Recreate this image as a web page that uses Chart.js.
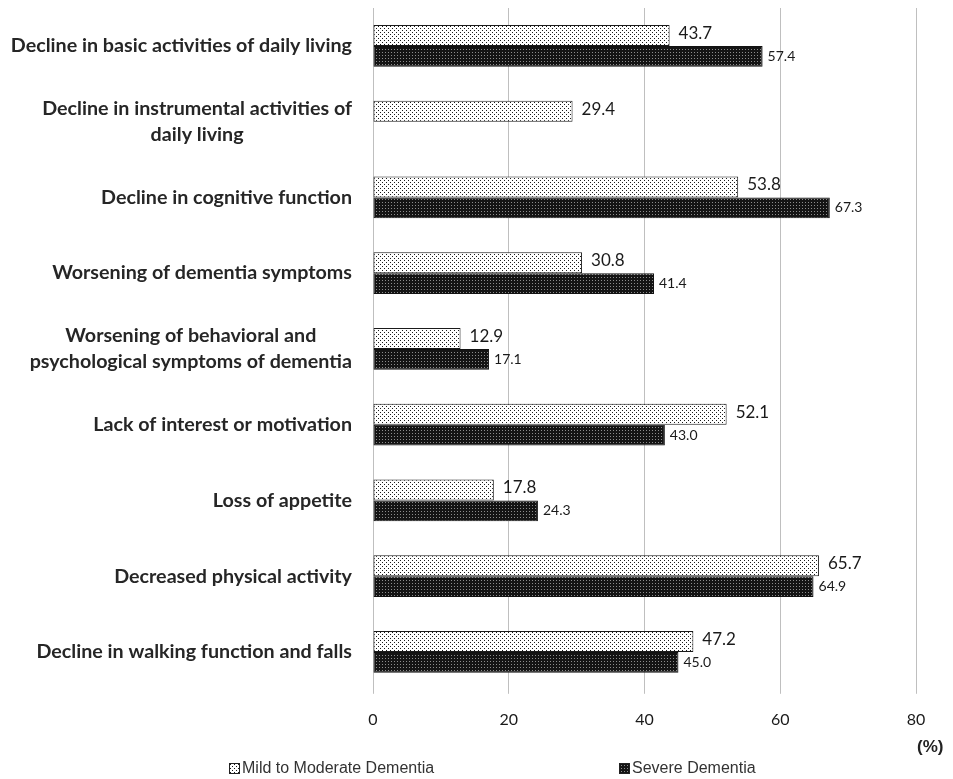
<!DOCTYPE html>
<html>
<head>
<meta charset="utf-8">
<script src="https://cdn.jsdelivr.net/npm/chart.js@4.4.1/dist/chart.umd.min.js"></script>
<style>
  html, body { margin: 0; padding: 0; background: #fff; }
  #wrap { position: relative; width: 953px; height: 779px; }
  #unit { position: absolute; left: 917px; top: 737px; font: bold 17px 'Liberation Sans', Arial, sans-serif; color: #222; }
  .leg { position: absolute; top: 759px; font: 16px 'Liberation Sans', Arial, sans-serif; color: #333; display: flex; align-items: center; }
  .sw { width: 9px; height: 9px; border: 1px solid #222; margin-right: 2px; }
</style>
</head>
<body>
<div id="wrap">
  <canvas id="chart" width="953" height="779"></canvas>
  <div id="unit">(%)</div>
  <div class="leg" style="left:229px"><span class="sw" id="sw1"></span>Mild to Moderate Dementia</div>
  <div class="leg" style="left:619px"><span class="sw" id="sw2"></span>Severe Dementia</div>
</div>
<script>
// Data
const categories = [
    ['Decline in basic activities of daily living'],
    ['Decline in instrumental activities of', 'daily living'],
    ['Decline in cognitive function'],
    ['Worsening of dementia symptoms'],
    ['Worsening of behavioral and', 'psychological symptoms of dementia'],
    ['Lack of interest or motivation'],
    ['Loss of appetite'],
    ['Decreased physical activity'],
    ['Decline in walking function and falls']
];
const mildValues = [43.7, 29.4, 53.8, 30.8, 12.9, 52.1, 17.8, 65.7, 47.2];
const severeValues = [57.4, null, 67.3, 41.4, 17.1, 43.0, 24.3, 64.9, 45.0];
const seriesNames = ['Mild to Moderate Dementia', 'Severe Dementia'];
const xTicks = [0, 20, 40, 60, 80];

// Fill patterns
function makePattern(bg, dot, size, dots) {
    const c = document.createElement('canvas');
    c.width = size; c.height = size;
    const g = c.getContext('2d');
    g.fillStyle = bg;
    g.fillRect(0, 0, size, size);
    g.fillStyle = dot;
    dots.forEach(d => g.fillRect(d[0], d[1], 1, 1));
    return { pattern: g.createPattern(c, 'repeat'), url: c.toDataURL() };
}
const mildFill = makePattern('#ffffff', '#1a1a1a', 4, [[0, 0], [2, 2]]);
const severeFill = makePattern('#141414', '#8c8c8c', 3, [[1, 1]]);
document.getElementById('sw1').style.background = 'url(' + mildFill.url + ')';
document.getElementById('sw2').style.background = 'url(' + severeFill.url + ')';

const labelFont = "bold 19.7px Lato, 'Open Sans', sans-serif";

// Draw category labels: block right aligned, lines centred inside block
const categoryLabels = {
    id: 'categoryLabels',
    afterDraw(chart) {
        const ctx = chart.ctx;
        const y = chart.scales.y;
        ctx.save();
        ctx.font = labelFont;
        ctx.fillStyle = '#262626';
        ctx.textBaseline = 'middle';
        ctx.textAlign = 'center';
        const right = y.right - 21;
        const lh = 26;
        categories.forEach((lines, i) => {
            const cy = y.getPixelForTick(i);
            const w = Math.max(...lines.map(l => ctx.measureText(l).width));
            const cx = right - w / 2;
            const y0 = cy - (lines.length - 1) * lh / 2;
            lines.forEach((l, k) => ctx.fillText(l, cx, y0 + k * lh));
        });
        ctx.restore();
    }
};

// Value labels at the bar ends
const valueLabels = {
    id: 'valueLabels',
    afterDatasetsDraw(chart) {
        const ctx = chart.ctx;
        ctx.save();
        ctx.textBaseline = 'middle';
        ctx.textAlign = 'left';
        ctx.fillStyle = '#1a1a1a';
        chart.data.datasets.forEach((ds, di) => {
            const meta = chart.getDatasetMeta(di);
            ctx.font = di === 0 ? "17px Lato, 'Open Sans', sans-serif" : "14px Lato, 'Open Sans', sans-serif";
            meta.data.forEach((bar, i) => {
                const v = ds.data[i];
                if (v === null) return;
                const dy = di === 0 ? -2 : 0;
                ctx.fillText(v.toFixed(1), bar.x + (di === 0 ? 9 : 5), bar.y + dy);
            });
        });
        ctx.restore();
    }
};

new Chart(document.getElementById('chart'), {
    type: 'bar',
    data: {
        labels: categories,
        datasets: [{
            label: seriesNames[0],
            data: mildValues,
            backgroundColor: mildFill.pattern,
            borderColor: '#1a1a1a',
            borderWidth: 1,
            borderSkipped: false
        }, {
            label: seriesNames[1],
            data: severeValues,
            backgroundColor: severeFill.pattern,
            borderColor: '#111111',
            borderWidth: 1,
            borderSkipped: false
        }]
    },
    options: {
        indexAxis: 'y',
        responsive: false,
        animation: false,
        layout: { padding: { top: 8, right: 37, bottom: 34, left: 0 } },
        datasets: { bar: { categoryPercentage: 0.55, barPercentage: 1.0 } },
        plugins: { legend: { display: false }, tooltip: { enabled: false } },
        scales: {
            x: {
                min: 0,
                max: 80,
                afterBuildTicks(scale) { scale.ticks = xTicks.map(v => ({ value: v })); },
                grid: { color: '#bfbfbf', lineWidth: 1, tickLength: 4 },
                border: { display: false },
                ticks: { color: '#1a1a1a', padding: 16, font: { family: "Lato, 'Open Sans', sans-serif", size: 16 } }
            },
            y: {
                grid: { display: false },
                border: { display: true, color: '#bfbfbf', width: 1 },
                ticks: { display: false },
                afterFit(scale) { scale.width = 373; }
            }
        }
    },
    plugins: [categoryLabels, valueLabels]
});
</script>
</body>
</html>
